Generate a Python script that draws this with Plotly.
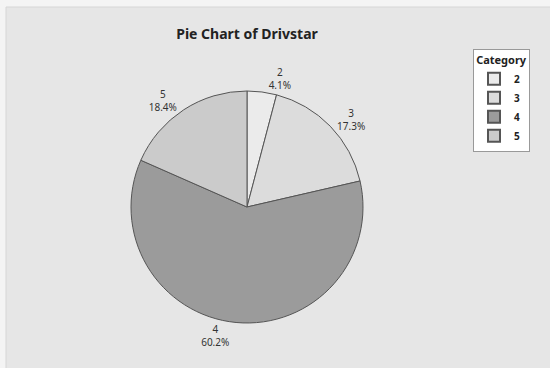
import plotly.graph_objects as go

categories = ["2", "3", "4", "5"]
percents = [4.1, 17.3, 60.2, 18.4]
slice_colors = ["#ebebeb", "#dcdcdc", "#9b9b9b", "#cbcbcb"]

W, H = 550, 368
fig = go.Figure()
fig.add_trace(go.Pie(
    labels=["<b>%s</b>" % c for c in categories],
    customdata=categories,
    values=percents,
    sort=False,
    direction="clockwise",
    rotation=0,
    marker=dict(colors=slice_colors, line=dict(color="#555555", width=1)),
    texttemplate="%{customdata}<br>%{value:.1f}%",
    textposition="outside",
    textfont=dict(family="Noto Sans", size=10, color="#333333"),
    hoverinfo="label+percent",
    domain=dict(x=[131 / W, 363 / W], y=[(H - 323) / H, (H - 91) / H]),
    showlegend=True,
))

fig.update_layout(
    width=W, height=H,
    margin=dict(l=0, r=0, t=0, b=0),
    paper_bgcolor="#f4f4f4",
    font=dict(family="Noto Sans", color="#222222"),
    title=dict(text="<b>Pie Chart of Drivstar</b>", x=247 / W, xanchor="center",
               y=1 - 34 / H, yanchor="middle",
               font=dict(family="Noto Sans", size=14, color="#222222")),
    legend=dict(
        title=dict(text="<b>Category</b>", side="top center",
                   font=dict(family="Noto Sans", size=11, color="#222222")),
        x=473 / W, xanchor="left", y=1 - 49 / H, yanchor="top",
        bgcolor="#ffffff", bordercolor="#999999", borderwidth=1,
        font=dict(family="Noto Sans", size=10, color="#222222"),
        itemsizing="constant", tracegroupgap=0, itemwidth=30,
        entrywidth=36,
    ),
    shapes=[dict(type="rect", xref="paper", yref="paper",
                 x0=6 / W, x1=1.01, y0=-0.01, y1=1 - 7 / H,
                 fillcolor="#e6e6e6", line=dict(color="#d6d6d6", width=1),
                 layer="below")],
)

fig.write_html("out.html", config={"displayModeBar": False},
               post_script="document.body.style.margin='0';document.body.style.overflow='hidden';")
